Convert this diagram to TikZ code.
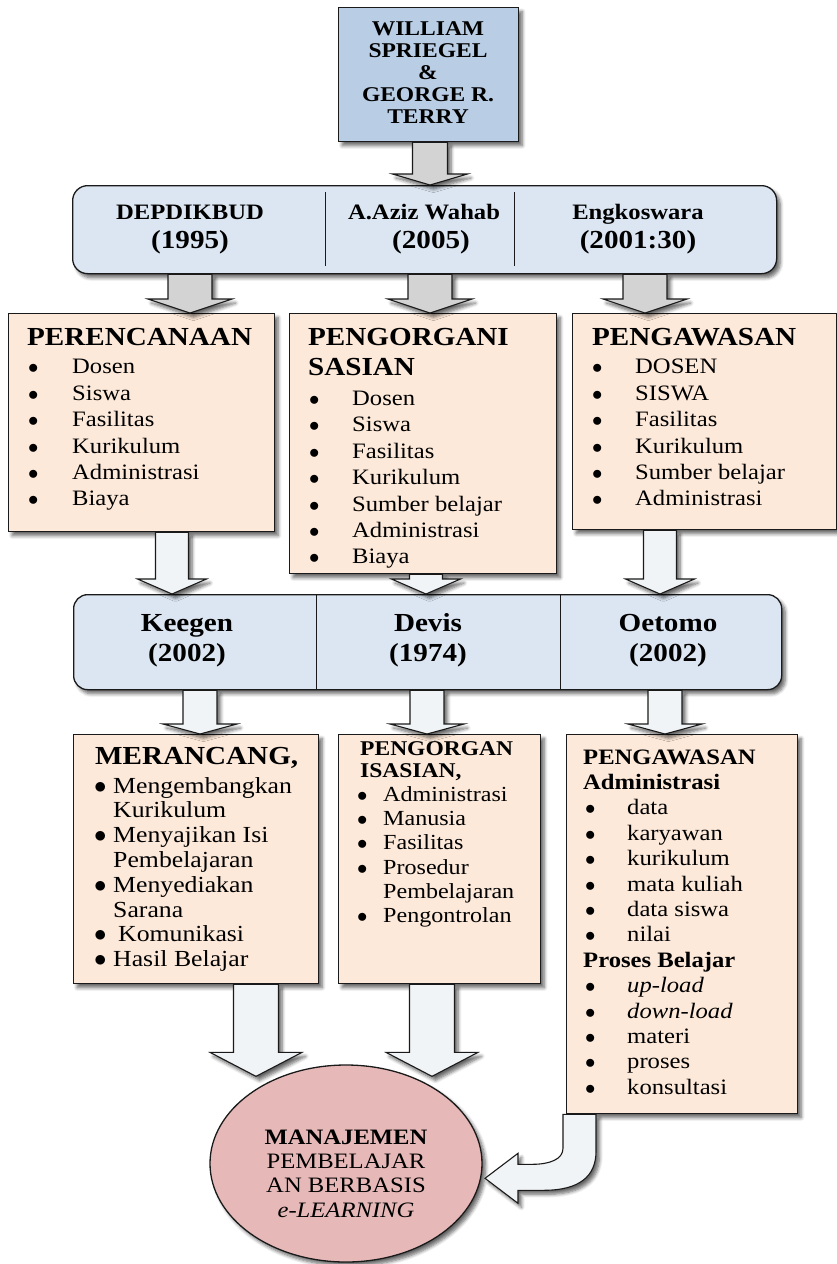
\documentclass[tikz,border=0pt]{standalone}
\usepackage{fontspec}
\setmainfont{Liberation Serif}[FakeStretch=1.12]
\usetikzlibrary{calc,shadows.blur,shapes.geometric}
\definecolor{topblue}{HTML}{B9CDE5}
\definecolor{rowblue}{HTML}{DCE6F2}
\definecolor{peach}{HTML}{FDE9D9}
\definecolor{pinkell}{HTML}{E6B9B8}
\definecolor{grayarr}{HTML}{D3D3D3}
\definecolor{lightarr}{HTML}{F1F4F6}
\definecolor{edge}{HTML}{1A1A1A}
\newcommand\fsz[2]{\fontsize{#1pt}{#2pt}\selectfont}
\newcommand\bul{$\bullet$}
\newcommand\blockarrow[6]{\path[#1] let \p1=(#2), \p2=(#3) in
  (\x1-#4,\y1) -- (\x1-#4,\y2+#6) -- (\x1-#5,\y2+#6) -- (\x1,\y2) --
  (\x1+#5,\y2+#6) -- (\x1+#4,\y2+#6) -- (\x1+#4,\y1) -- cycle;}
\tikzset{
  dshadow/.style={blur shadow={shadow xshift=3.5pt, shadow yshift=-4pt, shadow blur steps=6, shadow blur radius=3.5pt, shadow opacity=60}},
  box/.style={draw=edge, line width=1.3pt, dshadow, inner sep=0pt, anchor=north west},
  topbox/.style={box, fill=topblue},
  rowbox/.style={box, fill=rowblue, rounded corners=15pt},
  peachbox/.style={box, fill=peach},
  garrow/.style={draw=edge, line width=1.1pt, fill=grayarr, dshadow},
  warrow/.style={draw=edge, line width=1.1pt, fill=lightarr, dshadow},
  lbl/.style={inner sep=0pt, anchor=base},
  lst/.style={inner sep=0pt, anchor=base west},
  divider/.style={draw=edge, line width=0.9pt},
}
\begin{document}
\begin{tikzpicture}[x=1pt,y=-1pt]
\useasboundingbox (0,0) rectangle (837,1264);

% ---------- top box
\node[topbox, minimum width=180pt, minimum height=134pt] (top) at (338,7) {};
\node[lbl] (topt) at (428,35) {\fsz{21}{22}\bfseries\begin{tabular}[t]{@{}c@{}}WILLIAM\\SPRIEGEL\\\&\\GEORGE R.\\TERRY\end{tabular}};

% ---------- first blue row
\node[rowbox, minimum width=704pt, minimum height=88pt] (r1) at (72,185) {};
\draw[divider] (325,192) -- (325,266);
\draw[divider] (514,192) -- (514,266);
\node[lbl] (r1a) at (190,219.5) {\bfseries\fsz{22}{29}\begin{tabular}[t]{@{}c@{}}DEPDIKBUD\\\fsz{26}{29}(1995)\end{tabular}};
\node[lbl] (r1b) at (424,219.5) {\bfseries\fsz{22}{29}\begin{tabular}[t]{@{}c@{}}A.Aziz Wahab\\\hspace*{14pt}\fsz{26}{29}(2005)\end{tabular}};
\node[lbl] (r1c) at (638,219.5) {\bfseries\fsz{22}{29}\begin{tabular}[t]{@{}c@{}}Engkoswara\\\fsz{26}{29}(2001:30)\end{tabular}};

% ---------- second row boxes
\node[peachbox, minimum width=266pt, minimum height=218pt] (p1) at (8,313) {};
\node[peachbox, minimum width=267pt, minimum height=260pt] (p2) at (289,313) {};
\node[peachbox, minimum width=264pt, minimum height=216pt] (p3) at (572,313) {};

\node[lst] (p1t) at (27,345.5) {\fsz{22}{26.4}\begin{tabular}[t]{@{\hspace{1pt}}p{44pt}@{}l@{}}
\multicolumn{2}{@{}l@{}}{\fsz{26}{28}\bfseries PERENCANAAN}\\[2pt]
\bul & Dosen\\
\bul & Siswa\\
\bul & Fasilitas\\
\bul & Kurikulum\\
\bul & Administrasi\\
\bul & Biaya
\end{tabular}};

\node[lst] (p2t) at (308,345.5) {\fsz{22}{26.4}\begin{tabular}[t]{@{\hspace{1pt}}p{43pt}@{}l@{}}
\multicolumn{2}{@{}l@{}}{\fsz{26}{28}\bfseries PENGORGANI}\\[3.6pt]
\multicolumn{2}{@{}l@{}}{\fsz{26}{28}\bfseries SASIAN}\\[3.6pt]
\bul & Dosen\\
\bul & Siswa\\
\bul & Fasilitas\\
\bul & Kurikulum\\
\bul & Sumber belajar\\
\bul & Administrasi\\
\bul & Biaya
\end{tabular}};

\node[lst] (p3t) at (592,345.5) {\fsz{22}{26.4}\begin{tabular}[t]{@{\hspace{0pt}}p{43pt}@{}l@{}}
\multicolumn{2}{@{}l@{}}{\fsz{26}{28}\bfseries PENGAWASAN}\\[2pt]
\bul & DOSEN\\
\bul & SISWA\\
\bul & Fasilitas\\
\bul & Kurikulum\\
\bul & Sumber belajar\\
\bul & Administrasi
\end{tabular}};

% ---------- second blue row
\node[rowbox, rounded corners=14pt, minimum width=708pt, minimum height=95pt] (r2) at (73,594) {};
\draw[divider] (316,594) -- (316,689);
\draw[divider] (560,594) -- (560,689);
\node[lbl] (r2a) at (187,631) {\bfseries\fsz{26}{30}\begin{tabular}[t]{@{}c@{}}Keegen\\(2002)\end{tabular}};
\node[lbl] (r2b) at (428,631) {\bfseries\fsz{26}{30}\begin{tabular}[t]{@{}c@{}}Devis\\(1974)\end{tabular}};
\node[lbl] (r2c) at (668,631) {\bfseries\fsz{26}{30}\begin{tabular}[t]{@{}c@{}}Oetomo\\(2002)\end{tabular}};

% ---------- third row boxes
\node[peachbox, minimum width=245pt, minimum height=249pt] (q1) at (73,734) {};
\node[peachbox, minimum width=202pt, minimum height=249pt] (q2) at (338,734) {};
\node[peachbox, minimum width=231pt, minimum height=379pt] (q3) at (566,734) {};

\node[lst] (q1t) at (94,764.5) {\fsz{23}{24.8}\begin{tabular}[t]{@{\hspace{0pt}}p{19pt}@{}l@{}}
\multicolumn{2}{@{\hspace{1pt}}l@{}}{\fsz{26}{27}\bfseries MERANCANG,}\\[3.7pt]
\bul & Mengembangkan\\
 & Kurikulum\\
\bul & Menyajikan Isi\\
 & Pembelajaran\\
\bul & Menyediakan\\
 & Sarana\\
\bul & \hspace{5pt}Komunikasi\\
\bul & Hasil Belajar
\end{tabular}};

\node[lst] (q2t) at (357,755) {\fsz{21.5}{24.3}\begin{tabular}[t]{@{\hspace{0pt}}p{26pt}@{}l@{}}
\multicolumn{2}{@{\hspace{3pt}}l@{}}{\fsz{21}{22}\bfseries PENGORGAN}\\[-2.3pt]
\multicolumn{2}{@{\hspace{3pt}}l@{}}{\fsz{21}{22}\bfseries ISASIAN,}\\
\bul & Administrasi\\
\bul & Manusia\\
\bul & Fasilitas\\
\bul & Prosedur\\
 & Pembelajaran\\
\bul & Pengontrolan
\end{tabular}};

\node[lst] (q3t) at (583,764) {\fsz{22}{25.4}\begin{tabular}[t]{@{\hspace{2pt}}p{42pt}@{}l@{}}
\multicolumn{2}{@{}l@{}}{\bfseries PENGAWASAN}\\
\multicolumn{2}{@{}l@{}}{\bfseries Administrasi}\\
\bul & data\\
\bul & karyawan\\
\bul & kurikulum\\
\bul & mata kuliah\\
\bul & data siswa\\
\bul & nilai\\
\multicolumn{2}{@{}l@{}}{\bfseries Proses Belajar}\\
\bul & \textit{up-load}\\
\bul & \textit{down-load}\\
\bul & materi\\
\bul & proses\\
\bul & konsultasi
\end{tabular}};

% ---------- ellipse
\node[draw=edge, line width=1.3pt, fill=pinkell, ellipse, minimum width=272pt, minimum height=197pt, inner sep=0pt, dshadow] (ell) at (346,1163.5) {};
\node[lbl] (ellt) at (346,1144) {\fsz{22}{24.4}\begin{tabular}[t]{@{}c@{}}\textbf{MANAJEMEN}\\PEMBELAJAR\\AN BERBASIS\\\textit{e-LEARNING}\end{tabular}};

% ---------- arrow columns
\coordinate (xa0) at (430,0);
\coordinate (xa1) at (190,0);
\coordinate (xa2) at (430,0);
\coordinate (xa3) at (645,0);
\coordinate (xb1) at (172,0);
\coordinate (xb2) at (426,0);
\coordinate (xb3) at (660,0);
\coordinate (xc1) at (200,0);
\coordinate (xc2) at (427,0);
\coordinate (xc3) at (665,0);
\coordinate (xe1) at (256,0);
\coordinate (xe2) at (432,0);
\coordinate (xd) at (579.5,0);

\blockarrow{garrow}{top.south -| xa0}{r1.north -| xa0}{17.5pt}{37.5pt}{11pt}
\blockarrow{garrow}{r1.south -| xa1}{p1.north -| xa1}{22pt}{42pt}{14pt}
\blockarrow{garrow}{r1.south -| xa2}{p2.north -| xa2}{22pt}{42pt}{14pt}
\blockarrow{garrow}{r1.south -| xa3}{p3.north -| xa3}{22pt}{42pt}{14pt}

\blockarrow{warrow}{p1.south -| xb1}{r2.north -| xb1}{16.5pt}{34.5pt}{15pt}
\blockarrow{warrow}{p2.south -| xb2}{r2.north -| xb2}{16.5pt}{34.5pt}{15pt}
\blockarrow{warrow}{p3.south -| xb3}{r2.north -| xb3}{16.5pt}{34.5pt}{15pt}

\blockarrow{warrow}{r2.south -| xc1}{q1.north -| xc1}{17pt}{37pt}{10pt}
\blockarrow{warrow}{r2.south -| xc2}{q2.north -| xc2}{17pt}{37pt}{10pt}
\blockarrow{warrow}{r2.south -| xc3}{q3.north -| xc3}{17pt}{37pt}{10pt}

\blockarrow{warrow}{q1.south -| xe1}{$(ell.north -| xe1)+(0,12)$}{22.5pt}{46pt}{24pt}
\blockarrow{warrow}{q2.south -| xe2}{$(ell.north -| xe2)+(0,12)$}{22.5pt}{46pt}{24pt}

\begin{scope}[shift={(q3.south -| xd)}]
\path[warrow] (-16.5,0) -- (-16.5,34) .. controls (-16.5,45) and (-30,50) .. (-47,50)
  -- (-61.5,50) -- (-61.5,39) -- (-94.5,64) -- (-61.5,89) -- (-61.5,76) -- (-36,76)
  .. controls (0,76) and (16.5,62) .. (16.5,37) -- (16.5,0) -- cycle;
\end{scope}
\end{tikzpicture}
\end{document}
